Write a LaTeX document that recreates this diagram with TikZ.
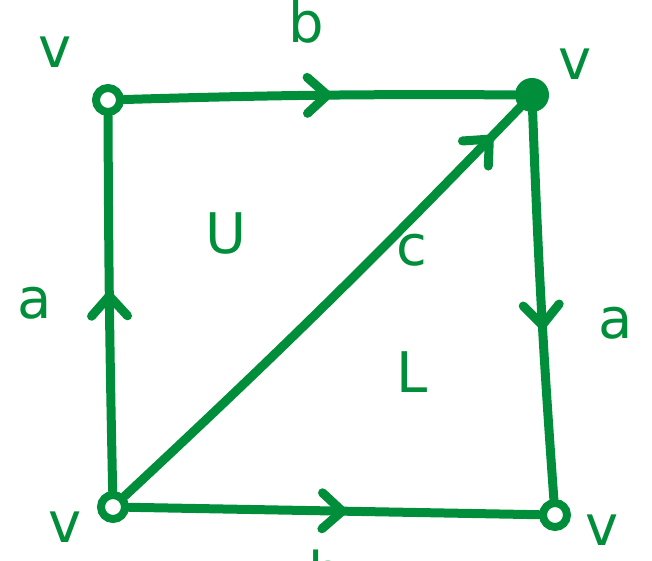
\documentclass[tikz,border=0pt]{standalone}
\usepackage{fontspec}
\setmainfont{DejaVu Sans}
\usetikzlibrary{decorations.markings}
\definecolor{pen}{RGB}{0,142,58}
\begin{document}
\begin{tikzpicture}[x=1pt,y=-1pt,
  pen/.style={draw=pen, line width=9pt, line cap=round, line join=round},
  vert/.style={circle, draw=pen, line width=8pt, inner sep=0pt, minimum size=24pt},
  lbl/.style={text=pen, font=\fontsize{56}{56}\selectfont, inner sep=0pt},
  midarrow/.style={postaction={decorate, decoration={markings,
     mark=at position #1 with {\draw[pen] (-20pt,18pt) -- (0,0) -- (-20pt,-18pt);}}}}
]
\path[use as bounding box] (0,0) rectangle (652,561);
\clip (0,0) rectangle (652,561);
% vertices
\node[vert] (tl) at (108,100) {};
\node[vert, minimum size=30pt, fill=pen, line width=4pt] (tr) at (532,95) {};
\node[vert] (bl) at (113,507) {};
\node[vert] (br) at (555,515) {};
% edges
\draw[pen, midarrow=0.52] (tl) to[bend left=1] (tr);
\draw[pen, midarrow=0.52] (bl) to[bend left=0.5] (tl);
\draw[pen, midarrow=0.55] (tr) to[bend right=1] (br);
\draw[pen, midarrow=0.52] (bl) -- (br);
\draw[pen, midarrow=0.92] (bl) to[bend right=1.5] (tr);
% labels
\node[lbl] (v1) at (55,52) {v};
\node[lbl] (v2) at (575,64) {v};
\node[lbl] (v3) at (65,527) {v};
\node[lbl] (v4) at (602,530) {v};
\node[lbl] (lb) at (306,22) {b};
\node[lbl] (la) at (35,303) {a};
\node[lbl] (ra) at (616,323) {a};
\node[lbl] (lU) at (226,233) {U};
\node[lbl] (lc) at (412,250) {c};
\node[lbl] (lL) at (412,372) {L};
\node[lbl] (lb2) at (326,572) {b};
\end{tikzpicture}
\end{document}
